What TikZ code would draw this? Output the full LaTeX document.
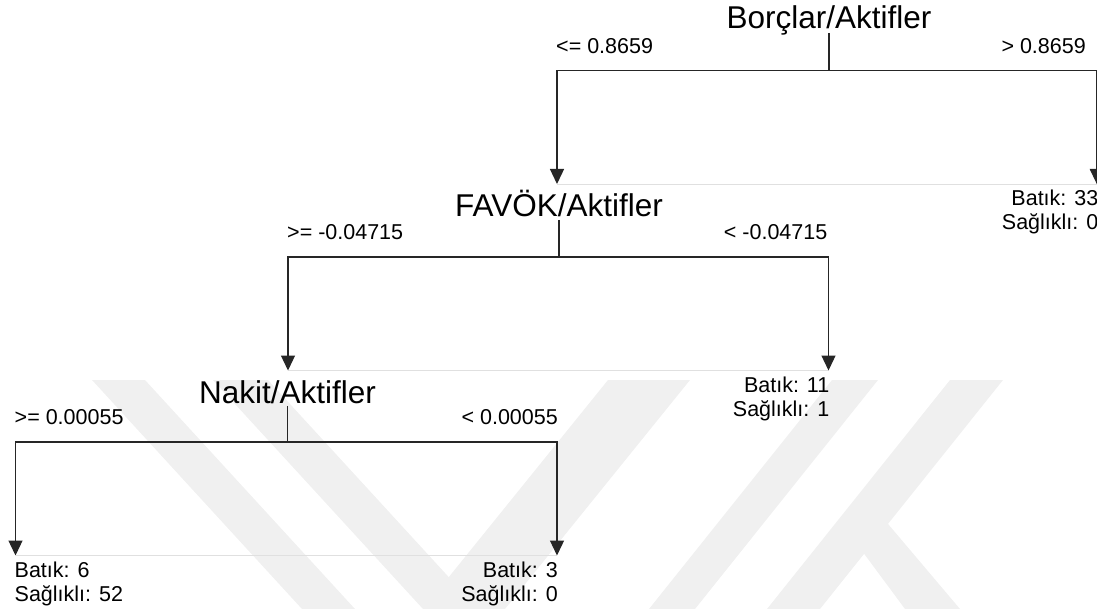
\documentclass[tikz,border=0pt]{standalone}
\usepackage{fontspec}
\setmainfont{Liberation Sans}
\usetikzlibrary{arrows.meta}
\begin{document}
\begin{tikzpicture}[x=1pt,y=-1pt,
  split/.style={font=\fontsize{31.5}{36}\selectfont, inner sep=0pt, anchor=base},
  cond/.style={font=\fontsize{21.5}{25}\selectfont, inner sep=0pt},
  leaf/.style={font=\fontsize{21.5}{25}\selectfont, inner sep=0pt},
  wire/.style={line width=1.3pt, draw=black!85},
  branch/.style={wire, -{Triangle[length=15pt,width=14pt]}},
  frame/.style={draw=black!12, line width=0.9pt},
  logo/.style={fill=black!6, draw=none}]
\useasboundingbox (0,0) rectangle (1097,609);

% faint logo in the background
\begin{scope}
  \clip (0,0) rectangle (1097,609);
  \fill[logo] (92,380) -- (145,380) -- (355,609) -- (302,609) -- cycle;
  \fill[logo] (213,380) -- (268,380) -- (478,609) -- (423,609) -- cycle;
  \fill[logo] (608,380) -- (690,380) -- (505,609) -- (423,609) -- cycle;
  \fill[logo] (832,380) -- (878,380) -- (695,609) -- (649,609) -- cycle;
  \fill[logo] (950,380) -- (1003,380) -- (820,609) -- (767,609) -- cycle;
  \fill[logo] (845,528) -- (872,505) -- (960,609) -- (905,609) -- cycle;
\end{scope}

% split nodes
\node[split] (n1) at (829,28.5) {Borçlar/Aktifler};
\node[split] (n2) at (559,216.5) {FAVÖK/Aktifler};
\node[split] (n3) at (287.5,403.3) {Nakit/Aktifler};

% junctions and arrow tips
\coordinate (j1) at (829,70.5);
\coordinate (t1l) at (557,184);
\coordinate (t1r) at (1096.8,184);
\coordinate (j2) at (559,257);
\coordinate (t2l) at (288,370.5);
\coordinate (t2r) at (828.5,370.5);
\coordinate (j3) at (287.5,442);
\coordinate (t3l) at (15.5,555.5);
\coordinate (t3r) at (557,555.5);

% light frame lines under the arrow tips
\draw[frame] (t1l) -- (t1r);
\draw[frame] (t2l) -- (t2r);
\draw[frame] (t3l) -- (t3r);

% connectors
\draw[wire] ([yshift=-4.5pt]n1.base) -- (j1);
\draw[branch] (j1) -| (t1l);
\draw[branch] (j1) -| (t1r);
\draw[wire] ([yshift=-3.5pt]n2.base) -- (j2);
\draw[branch] (j2) -| (t2l);
\draw[branch] (j2) -| (t2r);
\draw[wire] ([yshift=-2.5pt]n3.base) -- (j3);
\draw[branch] (j3) -| (t3l);
\draw[branch] (j3) -| (t3r);

% branch conditions
\node[cond, anchor=base west] (c1l) at (556,54) {<= 0.8659};
\node[cond, anchor=base east] (c1r) at (1086,54) {> 0.8659};
\node[cond, anchor=base west] (c2l) at (287,240) {>= -0.04715};
\node[cond, anchor=base east] (c2r) at (827.5,240) {< -0.04715};
\node[cond, anchor=base west] (c3l) at (14.5,424.5) {>= 0.00055};
\node[cond, anchor=base east] (c3r) at (558,424.5) {< 0.00055};

% leaves
\node[leaf, anchor=base east] (l1a) at (1098.5,205.5) {Batık: 33};
\node[leaf, anchor=base east] (l1b) at (1098.5,230) {Sağlıklı: 0};
\node[leaf, anchor=base east] (l2a) at (829.5,392) {Batık: 11};
\node[leaf, anchor=base east] (l2b) at (829.5,416.5) {Sağlıklı: 1};
\node[leaf, anchor=base west] (l3a) at (14.5,577) {Batık: 6};
\node[leaf, anchor=base west] (l3b) at (14.5,601.5) {Sağlıklı: 52};
\node[leaf, anchor=base east] (l4a) at (558,577) {Batık: 3};
\node[leaf, anchor=base east] (l4b) at (558,601.5) {Sağlıklı: 0};
\end{tikzpicture}
\end{document}
